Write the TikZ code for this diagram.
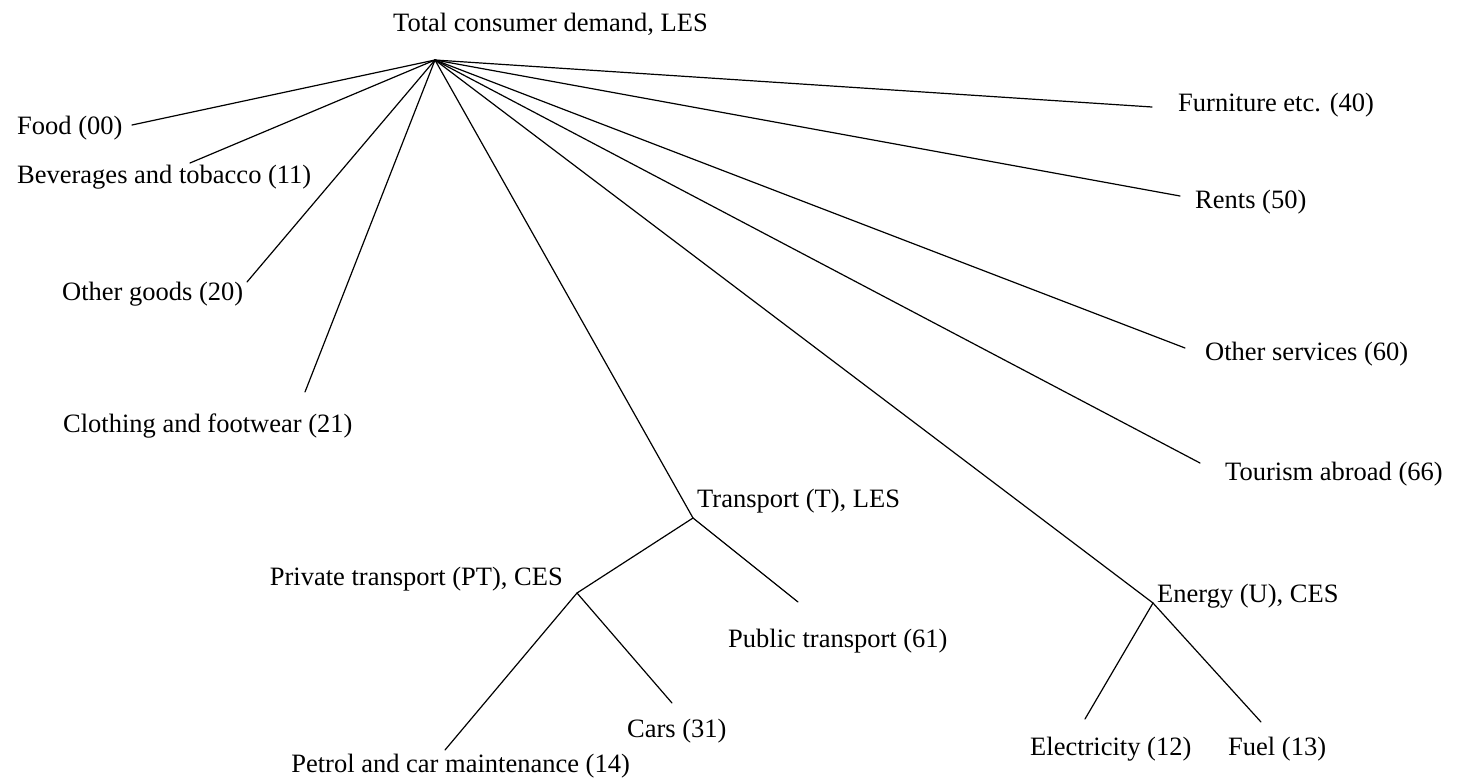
\documentclass[tikz,border=0pt]{standalone}
\usepackage{fontspec}
\setmainfont{Liberation Serif}
\begin{document}
\begin{tikzpicture}[x=1pt,y=-1pt,
  lbl/.style={inner sep=0pt, anchor=base west, font=\fontsize{26.5}{30}\selectfont},
  lble/.style={lbl, anchor=base east},
  edge/.style={line width=1.2pt, line cap=round, line join=round}]
\fill[white] (0,0) rectangle (1460,781);
\useasboundingbox (0,0) rectangle (1460,781);

% labels
\node[lbl] (total) at (393,32) {Total consumer demand, LES};
\node[lbl] (food) at (17,135) {Food (00)};
\node[lbl] (bev) at (17,183) {Beverages and tobacco (11)};
\node[lbl] (othg) at (62,300) {Other goods (20)};
\node[lbl] (cloth) at (63,432) {Clothing and footwear (21)};
\node[lbl] (trans) at (697,507) {Transport (T), LES};
\node[lbl] (energy) at (1157,602) {Energy (U), CES};
\node[lbl] (tour) at (1225,480) {Tourism abroad (66)};
\node[lbl] (oths) at (1205,360) {Other services (60)};
\node[lbl] (rents) at (1195,208) {Rents (50)};
\node[lbl] (furn) at (1178,112) {Furniture etc. (40)};
\node[lble] (priv) at (563,585) {Private transport (PT), CES};
\node[lbl] (pub) at (728,647) {Public transport (61)};
\node[lbl] (cars) at (627,737) {Cars (31)};
\node[lble] (petrol) at (630,772) {Petrol and car maintenance (14)};
\node[lbl] (elec) at (1030,755) {Electricity (12)};
\node[lbl] (fuel) at (1228,755) {Fuel (13)};

% junctions and line ends
\coordinate (root) at (435,60);
\coordinate (tj) at (693,518);
\coordinate (ej) at (1153,603);
\coordinate (pj) at (577,593);
\coordinate (foodE) at (132,125);
\coordinate (bevE) at (190,163);
\coordinate (othgE) at (247,282);
\coordinate (clothE) at (305,392);
\coordinate (tourE) at (1200,463);
\coordinate (othsE) at (1185,348);
\coordinate (rentsE) at (1180,196);
\coordinate (furnE) at (1152,107);
\coordinate (pubE) at (798,602);
\coordinate (carsE) at (672,703);
\coordinate (petrolE) at (445,750);
\coordinate (elecE) at (1085,719);
\coordinate (fuelE) at (1261,722);

% connectors
\draw[edge] (root) -- (foodE);
\draw[edge] (root) -- (bevE);
\draw[edge] (root) -- (othgE);
\draw[edge] (root) -- (clothE);
\draw[edge] (root) -- (tj);
\draw[edge] (root) -- (ej);
\draw[edge] (root) -- (tourE);
\draw[edge] (root) -- (othsE);
\draw[edge] (root) -- (rentsE);
\draw[edge] (root) -- (furnE);
\draw[edge] (tj) -- (pj);
\draw[edge] (tj) -- (pubE);
\draw[edge] (pj) -- (carsE);
\draw[edge] (pj) -- (petrolE);
\draw[edge] (ej) -- (elecE);
\draw[edge] (ej) -- (fuelE);
\end{tikzpicture}
\end{document}
